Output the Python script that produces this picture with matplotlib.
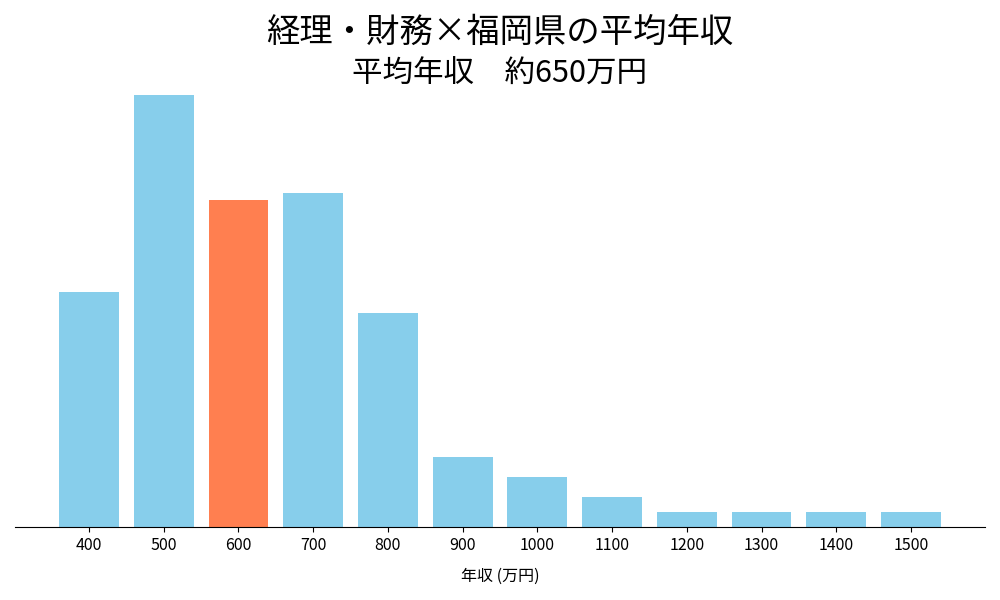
import matplotlib
matplotlib.use("Agg")
import matplotlib.pyplot as plt

plt.rcParams['font.family'] = ['Noto Sans CJK JP', 'DejaVu Sans']

categories = ['400', '500', '600', '700', '800', '900', '1000', '1100', '1200', '1300', '1400', '1500']
values = [47, 86.4, 65.4, 66.8, 42.8, 14, 10, 6, 3, 3, 3, 3]
highlight = '600'
title_main = '経理・財務×福岡県の平均年収'
title_sub = '平均年収　約650万円'
xlabel = '年収 (万円)'

colors = ['#FF7F50' if c == highlight else '#87CEEB' for c in categories]

fig = plt.figure(figsize=(10, 6), dpi=100)
ax = fig.add_axes([0.015, 0.1217, 0.97, 0.756])
ax.bar(range(len(categories)), values, color=colors, width=0.8)
ax.set_xticks(range(len(categories)))
ax.set_xticklabels(categories, fontsize=11.5)
ax.set_yticks([])
for s in ['left', 'right', 'top']:
    ax.spines[s].set_visible(False)
ax.set_xlabel(xlabel, fontsize=11.5, labelpad=10)
fig.text(0.5, 1 - 32 / 600, title_main, fontsize=24, ha='center', va='center')
fig.text(0.5, 1 - 74 / 600, title_sub, fontsize=22, ha='center', va='center')
fig.savefig('out.png')
